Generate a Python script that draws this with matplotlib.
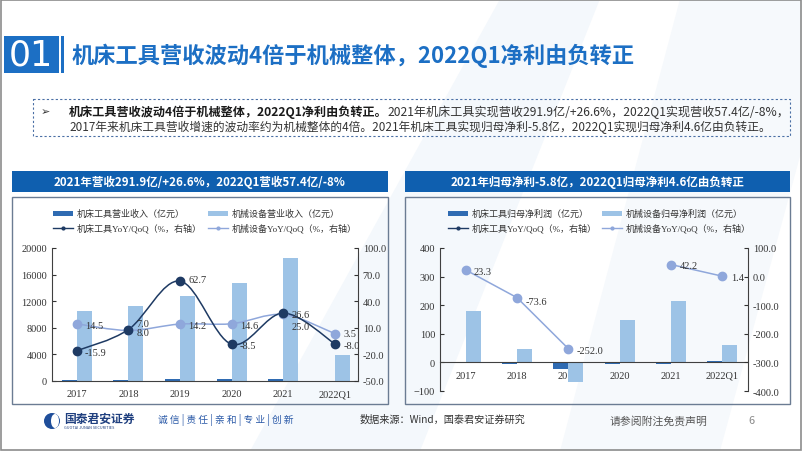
import numpy as np
import matplotlib
matplotlib.use("Agg")
import matplotlib.pyplot as plt
from matplotlib.path import Path
from matplotlib.patches import PathPatch, Rectangle, Circle, Ellipse, Polygon

plt.rcParams['font.family'] = ['Noto Sans CJK SC', 'DejaVu Sans']

W, H = 802, 452

# ---------------- data ----------------
years = ['2017', '2018', '2019', '2020', '2021', '2022Q1']

# revenue (亿元)
rev_tool = [143, 155, 252, 231, 292, 57]
rev_mach = [10480, 11280, 12780, 14690, 18450, 3900]
yoy_tool = [-15.9, 8.0, 62.7, -8.5, 26.6, -8.0]
yoy_mach = [14.5, 7.0, 14.2, 14.6, 25.0, 3.5]

# net profit (亿元)
np_tool = [2.5, -5.0, -23.0, -5.0, -5.8, 4.6]
np_mach = [178, 46, -70, 149, 214, 60]
npy_mach = [23.3, -73.6, -252.0, np.nan, 42.2, 1.4]

DARK_BAR = '#2F6BB2'
LIGHT_BAR = '#9DC3E6'
DARK_LINE = '#1E3A63'
LIGHT_LINE = '#8FA7DB'
BLUE = '#1C6FC4'
HEAD = '#0F5FAF'
SERIF = 'Liberation Serif'
LEG = ['Liberation Serif', 'Noto Sans CJK SC']


def rect(x0, y0, x1, y1):
    return [x0 / W, 1 - y1 / H, (x1 - x0) / W, (y1 - y0) / H]


def smooth_path(xs, ys):
    # Excel style smoothed line through the data points
    pts = np.column_stack([xs, ys]).astype(float)
    n = len(pts)
    verts = [pts[0]]
    codes = [Path.MOVETO]
    for i in range(n - 1):
        p0 = pts[i - 1] if i > 0 else pts[i]
        p1, p2 = pts[i], pts[i + 1]
        p3 = pts[i + 2] if i + 2 < n else pts[i + 1]
        verts += [p1 + (p2 - p0) / 6, p2 - (p3 - p1) / 6, p2]
        codes += [Path.CURVE4] * 3
    return Path(verts, codes)


fig = plt.figure(figsize=(W / 100, H / 100), dpi=100)

# ---------------- slide background ----------------
bg = fig.add_axes([0, 0, 1, 1])
bg.set_xlim(0, W)
bg.set_ylim(H, 0)
bg.axis('off')
bg.add_patch(Polygon([[500, 0], [600, 0], [420, 452], [250, 452]], color='#F4F8FC', lw=0))
bg.add_patch(Polygon([[680, 0], [802, 0], [802, 150], [720, 452], [560, 452]], color='#F6F9FC', lw=0))
bg.add_patch(Rectangle((0.5, 0.5), W - 1.5, H - 1.5, fill=False, ec='#8C8C8C', lw=1.2))

# title
bg.add_patch(Rectangle((4, 37), 55, 37, color=BLUE, lw=0))
bg.add_patch(Rectangle((61, 37), 3, 37, color=BLUE, lw=0))
bg.text(31, 56, '01', color='white', fontsize=25, ha='center', va='center', family='DejaVu Sans')
bg.text(72, 56, '机床工具营收波动4倍于机械整体，2022Q1净利由负转正', color=BLUE,
        fontsize=16, fontweight='bold', ha='left', va='center')

# bullet box
bg.add_patch(Rectangle((33, 100), 757, 37, fill=False, ec='#4A6FA5', lw=0.8, ls=(0, (2, 2))))
bg.text(45, 112, '➢', fontsize=8, ha='center', va='center', family='DejaVu Sans', color='#333333')
t1 = bg.text(69, 112, '机床工具营收波动4倍于机械整体，2022Q1净利由负转正。', fontsize=8.7,
             fontweight='bold', ha='left', va='center', color='#1a1a1a')
bg.annotate('2021年机床工具实现营收291.9亿/+26.6%，2022Q1实现营收57.4亿/-8%，',
            xy=(1, 0), xycoords=t1, ha='left', va='bottom', fontsize=8.7, color='#333333')
bg.text(69, 127, '2017年来机床工具营收增速的波动率约为机械整体的4倍。2021年机床工具实现归母净利-5.8亿，'
        '2022Q1实现归母净利4.6亿由负转正。', fontsize=8.45, ha='left', va='center', color='#333333')

# panel headers and frames
for x0, x1, txt in [(12, 388, '2021年营收291.9亿/+26.6%，2022Q1营收57.4亿/-8%'),
                    (405, 790, '2021年归母净利-5.8亿，2022Q1归母净利4.6亿由负转正')]:
    bg.add_patch(Rectangle((x0, 172), x1 - x0, 21, color=HEAD, lw=0))
    bg.text((x0 + x1) / 2, 182.5, txt, color='white', fontsize=8.3, fontweight='bold',
            ha='center', va='center')
    bg.add_patch(Rectangle((x0, 198), x1 - x0, 207, fill=False, ec='#6B7C93', lw=1.0))

# legends
def legend(x, y1, y2, x2, bar1, bar2, l1, l2):
    bg.add_patch(Rectangle((x, y1 - 2.5), 20, 5, color=DARK_BAR, lw=0))
    bg.text(x + 24, y1, bar1, fontsize=6.5, family=LEG, va='center', color='#333333')
    bg.add_patch(Rectangle((x2, y1 - 2.5), 20, 5, color=LIGHT_BAR, lw=0))
    bg.text(x2 + 24, y1, bar2, fontsize=6.5, family=LEG, va='center', color='#333333')
    bg.plot([x, x + 20], [y2, y2], color=DARK_LINE, lw=1)
    bg.plot([x + 10], [y2], 'o', color=DARK_LINE, ms=2)
    bg.text(x + 24, y2, l1, fontsize=6.5, family=LEG, va='center', color='#333333')
    bg.plot([x2, x2 + 20], [y2, y2], color=LIGHT_LINE, lw=1)
    bg.plot([x2 + 10], [y2], 'o', color=LIGHT_LINE, ms=2)
    bg.text(x2 + 24, y2, l2, fontsize=6.5, family=LEG, va='center', color='#333333')


legend(53, 214, 229, 208, '机床工具营业收入（亿元）', '机械设备营业收入（亿元）',
       '机床工具YoY/QoQ（%，右轴）', '机械设备YoY/QoQ（%，右轴）')
legend(448, 214, 229, 602, '机床工具归母净利润（亿元）', '机械设备归母净利润（亿元）',
       '机床工具YoY/QoQ（%，右轴）', '机械设备YoY/QoQ（%，右轴）')

# footer
bg.add_patch(Circle((52, 422), 8, color='#1F4E9A', lw=0))
bg.add_patch(Ellipse((55, 422), 8, 14, color='white', lw=0))
bg.text(64, 419, '国泰君安证券', fontsize=8.5, fontweight='bold', color='#1F3F7F', va='center')
bg.text(64, 428, 'GUOTAI JUNAN SECURITIES', fontsize=2.8, color='#1F3F7F', va='center')
bg.text(158, 420, '诚 信 | 责 任 | 亲 和 | 专 业 | 创 新', fontsize=7, color='#2B5AA8', va='center')
bg.text(360, 420, '数据来源：Wind，国泰君安证券研究', fontsize=7.3, color='#333333', va='center')
bg.text(610, 421, '请参阅附注免责声明', fontsize=7.8, color='#555555', va='center')
bg.text(748, 421, '6', fontsize=7.8, color='#888888', va='center')

x = np.arange(len(years))
bw = 0.29


def style(ax, axr, pad):
    for a in (ax, axr):
        a.patch.set_alpha(0)
        a.spines['top'].set_visible(False)
        for s in ('left', 'right', 'bottom'):
            a.spines[s].set_color('#404040')
            a.spines[s].set_linewidth(0.8)
        a.tick_params(direction='in', length=3, width=0.8, labelsize=7.5, colors='#333333',
                      labelfontfamily=SERIF)
    ax.spines['right'].set_visible(False)
    axr.spines['left'].set_visible(False)
    axr.spines['bottom'].set_visible(False)
    ax.tick_params(axis='x', length=0, pad=pad)


def labels(ax, ys, offs):
    for xi, yv, (dx, dy) in zip(x, ys, offs):
        if np.isnan(yv):
            continue
        ax.annotate(f'{yv:.1f}', (xi, yv), xytext=(dx, dy), textcoords='offset points',
                    fontsize=7.5, family=SERIF, color='#333333', va='center', ha='left', zorder=6)


# ---------------- left chart ----------------
ax1 = fig.add_axes(rect(52, 249, 358, 382))
ax1.bar(x - bw / 2, rev_tool, bw, color=DARK_BAR, zorder=2)
ax1.bar(x + bw / 2, rev_mach, bw, color=LIGHT_BAR, zorder=2)
ax1.set_xlim(-0.48, 5.45)
ax1.set_ylim(0, 20000)
ax1.set_yticks(range(0, 20001, 4000))
ax1.set_xticks(x)
ax1.set_xticklabels(years)
ax1r = ax1.twinx()
ax1r.set_ylim(-50, 100)
ax1r.set_yticks(np.arange(-50, 101, 30))
ax1r.set_yticklabels([f'{v:.1f}' for v in np.arange(-50, 101, 30)])
style(ax1, ax1r, 6)
ax1r.add_patch(PathPatch(smooth_path(x, yoy_mach), fill=False, ec=LIGHT_LINE, lw=1.1, zorder=3))
ax1r.add_patch(PathPatch(smooth_path(x, yoy_tool), fill=False, ec=DARK_LINE, lw=1.1, zorder=4))
ax1r.plot(x, yoy_mach, 'o', color=LIGHT_LINE, ms=6, zorder=5)
ax1r.plot(x, yoy_tool, 'o', color=DARK_LINE, ms=6, zorder=5)
labels(ax1r, yoy_tool, [(6, -1), (6, -2), (6, 1), (6, -1), (6, -1), (6, -1)])
labels(ax1r, yoy_mach, [(6, -1), (6, 5), (6, -1), (6, -1), (6, -9), (6, 0)])

# ---------------- right chart ----------------
ax2 = fig.add_axes(rect(440, 249, 748, 392))
ax2.bar(x - bw / 2, np_tool, bw, color=DARK_BAR, zorder=2)
ax2.bar(x + bw / 2, np_mach, bw, color=LIGHT_BAR, zorder=2)
ax2.set_xlim(-0.5, 5.5)
ax2.set_ylim(-100, 400)
ax2.set_yticks(range(-100, 401, 100))
ax2.set_xticks(x)
ax2.set_xticklabels(years)
ax2r = ax2.twinx()
ax2r.set_ylim(-400, 100)
ax2r.set_yticks(np.arange(-400, 101, 100))
ax2r.set_yticklabels([f'{v:.1f}' for v in np.arange(-400, 101, 100)])
style(ax2, ax2r, 6)
ax2.spines['bottom'].set_position(('data', 0))
ax2r.plot(x, npy_mach, '-', color=LIGHT_LINE, lw=1.1, zorder=3)
ax2r.plot(x, npy_mach, 'o', color=LIGHT_LINE, ms=6, zorder=5)
labels(ax2r, npy_mach, [(6, -1), (6, -3), (6, -1), (6, 0), (6, -1), (6, -1)])

fig.savefig('out.png', dpi=100)
